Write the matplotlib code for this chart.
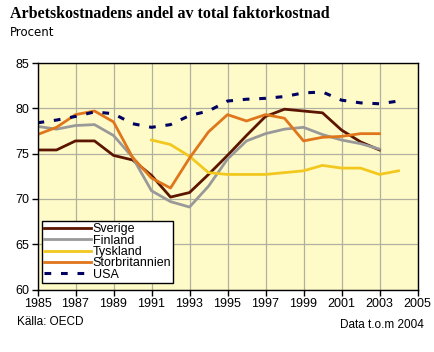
import matplotlib.pyplot as plt

years = list(range(1985, 2005))

sverige = [75.4, 75.4, 76.4, 76.4, 74.8, 74.3, 72.6, 70.2, 70.7, 72.7,
           74.8, 77.0, 79.1, 79.9, 79.7, 79.5, 77.6, 76.3, 75.4, None]
finland = [78.0, 77.7, 78.1, 78.2, 77.0, 74.6, 70.9, 69.7, 69.1, 71.4,
           74.4, 76.4, 77.2, 77.7, 77.9, 77.1, 76.5, 76.1, 75.5, None]
tyskland = [None] * 6 + [76.5, 76.0, 74.7, 72.9,
                         72.7, 72.7, 72.7, 72.9, 73.1, 73.7, 73.4, 73.4, 72.7, 73.1]
storbritannien = [77.1, 77.9, 79.3, 79.7, 78.5, 74.6, 72.3, 71.2, 74.5, 77.4,
                  79.3, 78.6, 79.3, 78.9, 76.4, 76.8, 76.9, 77.2, 77.2, None]
usa = [78.4, 78.7, 79.1, 79.6, 79.4, 78.3, 77.9, 78.2, 79.2, 79.7,
       80.8, 81.0, 81.1, 81.3, 81.7, 81.8, 80.9, 80.6, 80.5, 80.8]

xticks = list(range(1985, 2006, 2))
yticks = [60, 65, 70, 75, 80, 85]

plt.rcParams['font.family'] = ['Liberation Sans', 'DejaVu Sans']

fig = plt.figure(figsize=(4.34, 3.52), dpi=100)
ax = fig.add_axes([37.5 / 434, 1 - 289.5 / 352, 380 / 434, 226.5 / 352])
ax.set_facecolor('#fffbc9')

def clean(vals):
    return [float('nan') if v is None else v for v in vals]

ax.plot(years, clean(sverige), color='#5c1500', lw=2, label='Sverige')
ax.plot(years, clean(finland), color='#999999', lw=2, label='Finland')
ax.plot(years, clean(tyskland), color='#f2c81e', lw=2, label='Tyskland')
ax.plot(years, clean(storbritannien), color='#e0761c', lw=2, label='Storbritannien')
ax.plot(years, clean(usa), color='#000060', lw=2.2, ls=(0, (2.2, 3.2)), label='USA')

ax.set_xlim(1985, 2005)
ax.set_ylim(60, 85)
ax.set_xticks(xticks)
ax.set_yticks(yticks)
ax.grid(True, color='#b0b0a0', lw=0.9)
ax.set_axisbelow(True)
for s in ax.spines.values():
    s.set_color('black')
    s.set_linewidth(1)
ax.tick_params(direction='out', length=4, width=1, labelsize=9, pad=2)

leg = ax.legend(loc='lower left', bbox_to_anchor=(0.012, 0.03), frameon=True,
                fancybox=False, edgecolor='black', framealpha=1, fontsize=9,
                handlelength=3.8, handletextpad=0.1, labelspacing=-0.05,
                borderpad=0.15, borderaxespad=0)
leg.get_frame().set_linewidth(1)

fig.text(10 / 434, 1 - 14 / 352, 'Arbetskostnadens andel av total faktorkostnad',
         family=['Liberation Serif', 'DejaVu Serif'], weight='bold', fontsize=11.5,
         va='center', ha='left')
fig.text(10 / 434, 1 - 33 / 352, 'Procent', fontsize=8.5, va='center', ha='left',
         family=['DejaVu Sans'])
fig.text(17 / 434, 1 - 322 / 352, 'Källa: OECD', fontsize=8.5, va='center', ha='left')
fig.text(424 / 434, 1 - 325 / 352, 'Data t.o.m 2004', fontsize=8.5, va='center', ha='right')

fig.savefig('out.png', dpi=100)
